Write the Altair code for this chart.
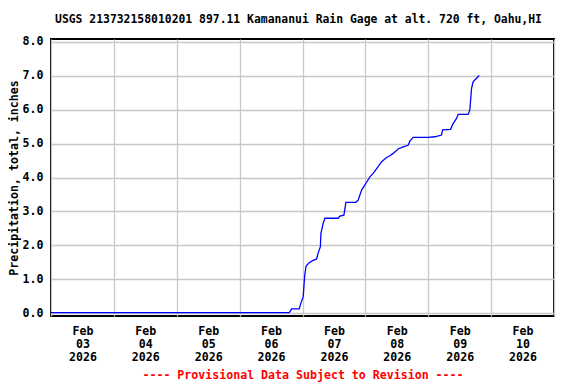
import altair as alt
import pandas as pd

# hours since 2026-02-03 00:00 and cumulative precipitation (inches)
hours = [0.0, 90.93, 91.38, 91.84, 94.74, 95.28, 95.77, 96.27, 96.80, 97.30,
         97.68, 98.56, 99.85, 101.38, 101.88, 102.37, 102.83, 103.02, 103.90,
         104.55, 109.62, 110.27, 111.80, 112.56, 116.38, 117.25, 118.55,
         119.81, 121.72, 122.98, 124.88, 126.11, 128.09, 129.35, 130.61,
         132.52, 134.42, 136.33, 136.98, 138.24, 143.96, 146.52, 149.07,
         149.46, 152.51, 153.50, 154.80, 155.41, 159.23, 159.87, 160.52,
         161.13, 161.78, 162.66, 163.42]
precip = [0.02, 0.02, 0.07, 0.13, 0.13, 0.27, 0.38, 0.49, 1.07, 1.37,
          1.42, 1.49, 1.55, 1.60, 1.75, 1.86, 1.96, 2.35, 2.65,
          2.80, 2.80, 2.86, 2.89, 3.27, 3.27, 3.33, 3.63,
          3.78, 4.02, 4.12, 4.32, 4.46, 4.59, 4.64, 4.71,
          4.84, 4.90, 4.95, 5.07, 5.18, 5.18, 5.20, 5.25,
          5.40, 5.42, 5.59, 5.74, 5.86, 5.86, 5.99, 6.62,
          6.82, 6.87, 6.94, 7.01]

day_labels = ["03", "04", "05", "06", "07", "08", "09", "10"]
y_ticks = [0, 1, 2, 3, 4, 5, 6, 7, 8]
x_ticks = [i * 12 for i in range(17)]

title_text = "USGS 213732158010201 897.11 Kamananui Rain Gage at alt. 720 ft, Oahu,HI"
y_title = "Precipitation, total, inches"
note_text = "---- Provisional Data Subject to Revision ----"

df = pd.DataFrame({"h": hours, "p": precip})

FONT = "DejaVu Sans Mono"
labels_js = "[" + ",".join("'%s'" % d for d in day_labels) + "]"

chart = alt.Chart(df).mark_line(color="#0000ff", strokeWidth=1.3).encode(
    x=alt.X("h:Q",
            scale=alt.Scale(domain=[0, 192], nice=False, zero=False),
            axis=alt.Axis(
                values=x_ticks,
                title=note_text,
                titleColor="#ff0000",
                titleFont=FONT, titleFontSize=11.6, titleFontWeight="bold",
                titlePadding=7,
                labelExpr="datum.value % 24 == 0 ? '' : ['Feb', " + labels_js +
                          "[floor(datum.value / 24)], '2026']",
                labelFont=FONT, labelFontSize=11.6, labelFontWeight="bold",
                labelColor="#000000", labelLineHeight=13, labelPadding=9,
                labelFlush=False, labelOverlap=False,
                ticks=False, domain=False,
                grid=True, gridColor="#c8c8c8", gridWidth=1.3,
                gridOpacity={"condition": {"test": "datum.value % 24 == 0", "value": 1}, "value": 0},
            )),
    y=alt.Y("p:Q",
            scale=alt.Scale(domain=[-0.08, 8.08], nice=False, zero=False),
            axis=alt.Axis(
                values=y_ticks, format=".1f",
                title=y_title, titleFont=FONT, titleFontSize=11.6,
                titleFontWeight="bold", titleColor="#000000", titlePadding=3,
                labelFont=FONT, labelFontSize=11.6, labelFontWeight="bold",
                labelColor="#000000", labelPadding=8,
                ticks=False, domain=False,
                grid=True, gridColor="#c8c8c8", gridWidth=1.3,
            )),
).properties(
    width=503, height=277,
    title=alt.TitleParams(title_text, font=FONT, fontSize=11.4, fontWeight="bold",
                          color="#000000", anchor="middle", offset=10, dx=-4),
    autosize=alt.AutoSizeParams(type="none"),
    padding={"left": 43, "top": 31, "right": 14, "bottom": 68},
    background="#ffffff",
).configure_view(stroke="#000000", strokeWidth=2)

chart.save("out.html", embed_options={"renderer": "svg", "actions": False})
